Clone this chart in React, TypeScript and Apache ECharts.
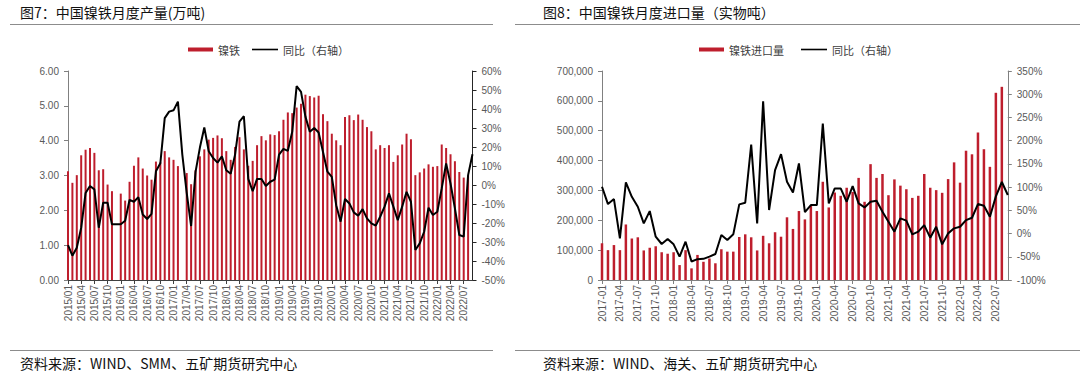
import React, { useEffect, useRef } from "react";
import * as echarts from "echarts";

// 图7：中国镍铁月度产量（万吨） 2015/01 – 2022/09
const NI_PROD: (number | null)[] = [
  3.12, 2.79, 3.01, 3.58, 3.74, 3.79, 3.65, 3.15, 3.18, 2.74, 2.55, null,
  2.48, 2.28, 2.82, 3.28, 3.52, 3.2, 3.0, 2.88, 3.4, 3.38, 3.7, 3.52,
  3.45, 3.27, null, 3.07, 2.75, 3.15, 3.55, 3.75, 4.03, 4.08, 4.15, 4.07,
  3.7, 3.45, 3.82, 4.1, 3.75, 3.28, 3.42, 3.87, 4.13, 4.01, 4.18, 4.16,
  4.27, 4.6, 4.81, 4.79, 4.95, 5.06, 5.32, 5.28, 5.24, 5.29, 4.76, 4.56,
  4.2, 4.01, 3.87, 4.68, 4.73, 4.59, 4.75, 4.6, 4.39, 4.27, 3.75, 3.87,
  3.79, 3.87, 3.39, 3.58, 3.89, 4.2, 4.04, 3.01, 3.09, 3.2, 3.32, 3.25,
  3.27, 3.89, 3.79, 3.61, 3.41, 3.1, 2.94, 3.0, null,
];
const NI_PROD_YOY: number[] = [
  -31.7, -37.2, -33.0, -22.5, -4.2, -0.5, -2.3, -22.5, -9.3, -9.3, -20.7, -20.7,
  -20.7, -18.8, -7.8, -8.8, -6.4, -15.5, -17.9, -15.2, 7.2, 11.4, 35.2, 38.6,
  39.3, 43.9, 16.0, -4.2, -21.6, 6.8, 19.7, 30.3, 17.8, 14.2, 11.8, 15.1,
  7.8, 5.9, 16.0, 33.4, 36.2, 3.2, -3.3, 3.2, 3.2, -0.5, 1.7, 2.8,
  16.0, 19.0, 18.0, 28.0, 52.0, 49.0, 36.0, 28.0, 30.0, 27.6, 17.4, 7.0,
  4.3, -10.6, -19.3, -7.4, -9.7, -14.4, -16.2, -12.7, -17.6, -20.2, -21.4, -16.7,
  -11.4, -4.4, -11.4, -18.5, -11.4, -3.6, -8.8, -34.2, -30.7, -24.6, -12.0, -15.8,
  -14.1, -1.8, 11.3, 0.8, -12.3, -26.3, -27.2, 5.2, 16.2,
];

// 图8：中国镍铁月度进口量（实物吨） 2017-01 – 2022-09
const NI_IMP: (number | null)[] = [
  123000, 100000, 117000, 100000, 186000, 139000, 143000, 99000, 108000, 113000, 93000, 88000,
  93000, 50000, 100000, 39000, 84000, 61000, 72000, 56000, 103000, 95000, 95000, 144000,
  153000, 143000, 99000, 148000, 123000, 160000, 145000, 210000, 171000, 231000, 203000, 249000,
  231000, 329000, 243000, 293000, 282000, 309000, 295000, 342000, 262000, 388000, 342000, 355000,
  284000, 337000, 316000, 304000, 275000, 282000, 355000, 309000, 301000, 292000, 338000, 394000,
  326000, 433000, 421000, 494000, 438000, 379000, 627000, 647000, null,
];
const NI_IMP_YOY: number[] = [
  100.7, 63.5, 74.2, -10.3, 110, 79.2, 57.7, 21.9, 48.4, -6.7, -22.5, -11.7,
  -23.2, -49.7, -17.5, -60.2, -55.2, -54.5, -49.7, -44, -3.2, -13.9, -1.7, 62.8,
  66.3, 191.7, 21.9, 284.8, 50.6, 136.6, 171, 111.5, 88.5, 150.9, 46, 61.3,
  61.3, 236.8, 64.9, 97.1, 97.1, 68.5, 102.1, 64.9, 56.3, 68.5, 70.6, 47,
  25.5, 4, 32.7, 27.7, -1.7, 4, 18.3, -8.9, 14.7, -23.2, 0.4, 11.2,
  14.7, 29, 34, 63.5, 59.9, 36.2, 80, 111, 83,
];

function buildMonths(startYear: number, count: number, sep: string): string[] {
  const out: string[] = [];
  for (let i = 0; i < count; i++) {
    const y = startYear + Math.floor(i / 12);
    const m = (i % 12) + 1;
    out.push(`${y}${sep}${m < 10 ? "0" + m : m}`);
  }
  return out;
}

const CATS_PROD = buildMonths(2015, NI_PROD_YOY.length, "/");
const CATS_IMP = buildMonths(2017, NI_IMP_YOY.length, "-");

const RED = "#BE1E2D";
const CJK = '"Noto Sans CJK SC", sans-serif';
const NUM = '"Liberation Sans", Arial, sans-serif';
const LABEL_COLOR = "#595959";

function xAxisCfg(gridIndex: number, data: string[], lineColor: string) {
  return {
    type: "category",
    gridIndex,
    data,
    boundaryGap: false,
    axisLine: { show: true, onZero: false, lineStyle: { color: lineColor, width: 1 } },
    axisTick: { show: true, interval: 2, length: 4, lineStyle: { color: lineColor } },
    axisLabel: {
      interval: 2,
      rotate: 90,
      fontSize: 10,
      fontFamily: NUM,
      color: LABEL_COLOR,
      margin: 5,
    },
    splitLine: { show: false },
  };
}

function yAxisCfg(
  gridIndex: number,
  position: string,
  min: number,
  max: number,
  interval: number,
  formatter: (v: number) => string,
  lineColor: string
) {
  return {
    type: "value",
    gridIndex,
    position,
    min,
    max,
    interval,
    axisLine: { show: true, lineStyle: { color: lineColor, width: 1 } },
    axisTick: { show: true, length: 4, lineStyle: { color: lineColor } },
    axisLabel: {
      formatter,
      fontSize: 10,
      fontFamily: NUM,
      color: LABEL_COLOR,
      margin: 9,
    },
    splitLine: { show: false },
  };
}

const LINE_LEGEND_ICON = "path://M0,0 L26,0 L26,1.6 L0,1.6 Z";

export default function App() {
  const ref = useRef<HTMLDivElement>(null);

  useEffect(() => {
    if (!ref.current) return;
    const chart = echarts.init(ref.current, null, { renderer: "svg" });
    const legendBase = {
      top: 39,
      itemGap: 12,
      textStyle: { fontSize: 11, fontFamily: CJK, color: "#404040" },
    };
    const option: any = {
      animation: false,
      backgroundColor: "#ffffff",
      grid: [
        { left: 68, top: 71, width: 404.5, height: 209 },
        { left: 602, top: 71, width: 405.8, height: 209 },
      ],
      legend: [
        {
          ...legendBase,
          left: 183,
          itemWidth: 25,
          itemHeight: 4,
          data: [{ name: "镍铁", icon: "rect" }],
        },
        {
          ...legendBase,
          left: 247,
          itemWidth: 26,
          itemHeight: 1.6,
          data: [{ name: "同比（右轴）", icon: LINE_LEGEND_ICON, itemStyle: { color: "#000" } }],
        },
        {
          ...legendBase,
          left: 694,
          itemWidth: 25,
          itemHeight: 4,
          data: [{ name: "镍铁进口量", icon: "rect" }],
        },
        {
          ...legendBase,
          left: 796,
          itemWidth: 26,
          itemHeight: 1.6,
          data: [{ name: "同比（右轴）", icon: LINE_LEGEND_ICON, itemStyle: { color: "#000" } }],
        },
      ],
      xAxis: [xAxisCfg(0, CATS_PROD, "#404040"), xAxisCfg(1, CATS_IMP, "#808080")],
      yAxis: [
        yAxisCfg(0, "left", 0, 6, 1, (v: number) => v.toFixed(2), "#808080"),
        yAxisCfg(0, "right", -50, 60, 10, (v: number) => `${v}%`, "#262626"),
        yAxisCfg(
          1,
          "left",
          0,
          700000,
          100000,
          (v: number) => (v === 0 ? "0" : v.toLocaleString("en-US")),
          "#808080"
        ),
        yAxisCfg(1, "right", -100, 350, 50, (v: number) => `${v}%`, "#808080"),
      ],
      series: [
        {
          name: "镍铁",
          type: "bar",
          xAxisIndex: 0,
          yAxisIndex: 0,
          data: NI_PROD,
          barWidth: 2,
          itemStyle: { color: RED },
        },
        {
          name: "同比（右轴）",
          type: "line",
          xAxisIndex: 0,
          yAxisIndex: 1,
          data: NI_PROD_YOY,
          symbol: "none",
          lineStyle: { color: "#000000", width: 2 },
          itemStyle: { color: "#000000" },
          z: 5,
        },
        {
          name: "镍铁进口量",
          type: "bar",
          xAxisIndex: 1,
          yAxisIndex: 2,
          data: NI_IMP,
          barWidth: 2.5,
          itemStyle: { color: RED },
        },
        {
          name: "同比（右轴）",
          type: "line",
          xAxisIndex: 1,
          yAxisIndex: 3,
          data: NI_IMP_YOY,
          symbol: "none",
          lineStyle: { color: "#000000", width: 2 },
          itemStyle: { color: "#000000" },
          z: 5,
        },
      ],
      graphic: [
        {
          type: "text",
          x: 20,
          y: 12,
          silent: true,
          style: {
            text: "图7：中国镍铁月度产量(万吨)",
            font: `14px ${CJK}`,
            fill: "#111111",
            verticalAlign: "middle",
          },
        },
        {
          type: "text",
          x: 543,
          y: 12,
          silent: true,
          style: {
            text: "图8：中国镍铁月度进口量（实物吨）",
            font: `14px ${CJK}`,
            fill: "#111111",
            verticalAlign: "middle",
          },
        },
        {
          type: "line",
          silent: true,
          shape: { x1: 10, y1: 24.5, x2: 493, y2: 24.5 },
          style: { stroke: "#8c8c8c", lineWidth: 1 },
        },
        {
          type: "line",
          silent: true,
          shape: { x1: 515, y1: 24.5, x2: 1080, y2: 24.5 },
          style: { stroke: "#8c8c8c", lineWidth: 1 },
        },
        {
          type: "line",
          silent: true,
          shape: { x1: 10, y1: 350.5, x2: 493, y2: 350.5 },
          style: { stroke: "#8c8c8c", lineWidth: 1 },
        },
        {
          type: "line",
          silent: true,
          shape: { x1: 515, y1: 350.5, x2: 1080, y2: 350.5 },
          style: { stroke: "#8c8c8c", lineWidth: 1 },
        },
        {
          type: "text",
          x: 20,
          y: 363,
          silent: true,
          style: {
            text: "资料来源：WIND、SMM、五矿期货研究中心",
            font: `14px ${CJK}`,
            fill: "#111111",
            verticalAlign: "middle",
          },
        },
        {
          type: "text",
          x: 543,
          y: 363,
          silent: true,
          style: {
            text: "资料来源：WIND、海关、五矿期货研究中心",
            font: `14px ${CJK}`,
            fill: "#111111",
            verticalAlign: "middle",
          },
        },
      ],
    };
    chart.setOption(option);
    return () => {
      chart.dispose();
    };
  }, []);

  return (
    <div
      ref={ref}
      style={{ position: "fixed", left: 0, top: 0, width: 1080, height: 379, background: "#fff" }}
    />
  );
}
